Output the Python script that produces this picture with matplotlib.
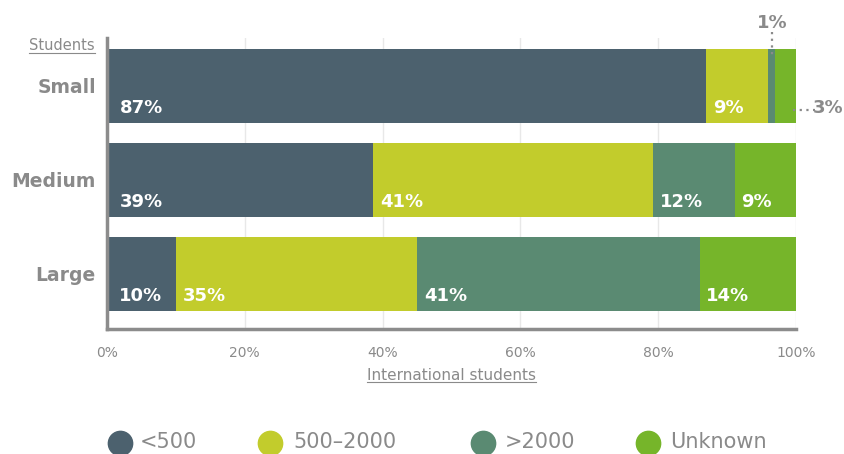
import matplotlib
matplotlib.use("Agg")
import matplotlib.pyplot as plt
import numpy as np
from matplotlib.lines import Line2D

categories = ["Small", "Medium", "Large"]
series = ["<500", "500–2000", ">2000", "Unknown"]
lt500 = [87, 39, 10]
mid = [9, 41, 35]
gt2000 = [1, 12, 41]
unknown = [3, 9, 14]
xticks = [0, 20, 40, 60, 80, 100]
xticklabels = ["0%", "20%", "40%", "60%", "80%", "100%"]
colors = ["#4c616e", "#c2cc2c", "#5a8a72", "#76b52a"]

FONT = "DejaVu Sans"
GRAY = "#8a8a8a"

fig = plt.figure(figsize=(8.45, 4.54), dpi=100)
ax = fig.add_axes([107/845, 1-329/454, (796-107)/845, (329-38)/454])

data = np.array([lt500, mid, gt2000, unknown], dtype=float)
totals = data.sum(axis=0)
pct = data / totals * 100
y = np.arange(len(categories))
left = np.zeros(len(categories))
inside = [[True, True, True], [True, True, True], [False, True, True], [False, True, True]]
for i, s in enumerate(series):
    ax.barh(y, pct[i], left=left, height=0.79, color=colors[i], zorder=2, label=s)
    for j in range(len(categories)):
        if inside[i][j]:
            off = 1.8 if i == 0 else 1.0
            ax.text(left[j] + off, y[j] + 0.235, f"{int(data[i, j])}%", color="white",
                    fontsize=13, fontweight="bold", family=FONT, va="center", ha="left", zorder=3)
    left += pct[i]

# outside annotations for Small bar
x1 = pct[0, 0] + pct[1, 0] + pct[2, 0] / 2
ax.plot([x1, x1], [-0.57, -0.32], ls=(0, (1, 2)), color=GRAY, lw=1.6, clip_on=False, zorder=4)
ax.text(x1, -0.67, "1%", color=GRAY, fontsize=13, fontweight="bold", family=FONT,
        ha="center", va="center", clip_on=False)
x3 = pct[:3, 0].sum() + pct[3, 0] / 2
ax.plot([x3 + 1.0, x3 + 4.3], [0.26, 0.26], ls=(0, (1, 2)), color=GRAY, lw=1.6, clip_on=False, zorder=4)
ax.text(102.4, 0.24, "3%", color=GRAY, fontsize=13, fontweight="bold", family=FONT,
        ha="left", va="center", clip_on=False)

ax.set_xlim(0, 100)
ax.set_ylim(2.59, -0.51)
ax.set_xticks(xticks)
ax.set_xticklabels(xticklabels, family=FONT, fontsize=10, color=GRAY)
ax.set_yticks(y)
ax.set_yticklabels(categories, family=FONT, fontsize=13.5, color=GRAY, fontweight="bold")
ax.tick_params(axis="both", length=0)
ax.tick_params(axis="x", pad=12)
ax.tick_params(axis="y", pad=8)
ax.grid(axis="x", color="#e8e8e8", lw=1, zorder=0)
for s in ["top", "right"]:
    ax.spines[s].set_visible(False)
ax.spines["left"].set_color("#8c8c8c")
ax.spines["left"].set_linewidth(2.5)
ax.spines["bottom"].set_color("#8c8c8c")
ax.spines["bottom"].set_linewidth(2.5)

t1 = fig.text(95/845, 1-46/454, "Students", family=FONT, fontsize=10.5, color=GRAY, ha="right", va="center")
t2 = fig.text((107+796)/2/845, 1-375/454, "International students", family=FONT, fontsize=11,
              color=GRAY, ha="center", va="center")

# legend (manual placement)
leg_cx = [120, 270, 483, 648]
leg_tx = [140, 293, 505, 670]
for c, cx, tx, s in zip(colors, leg_cx, leg_tx, series):
    fig.add_artist(Line2D([cx/845], [1-443/454], marker="o", ls="", markersize=17.5,
                          markerfacecolor=c, markeredgecolor=c, transform=fig.transFigure))
    fig.text(tx/845, 1-442/454, s, family=FONT, fontsize=15, color=GRAY, ha="left", va="center")

fig.canvas.draw()
r = fig.canvas.get_renderer()
for t in [t1, t2]:
    bb = t.get_window_extent(r).transformed(fig.transFigure.inverted())
    fig.add_artist(Line2D([bb.x0, bb.x1], [bb.y0 + 0.002, bb.y0 + 0.002], color=GRAY, lw=0.8,
                          transform=fig.transFigure))

fig.savefig("out.png", dpi=100)
